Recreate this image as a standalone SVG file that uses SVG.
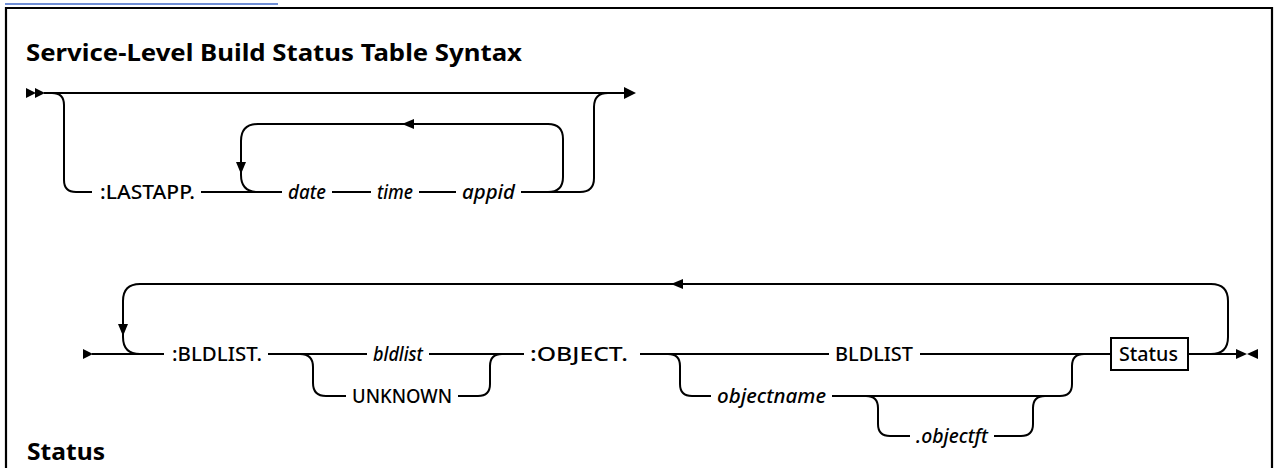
<svg xmlns="http://www.w3.org/2000/svg" width="1274" height="468" viewBox="0 0 1274 468">
<style>
.rail{fill:none;stroke:#000;stroke-width:2}
.ah{fill:#000}
.lbl{font-family:"Noto Sans","Liberation Sans",Arial,sans-serif;font-size:19px;font-weight:500;fill:#000}
.var{font-style:italic}
.hd{font-family:"Noto Sans","Liberation Sans",Arial,sans-serif;font-size:23px;font-weight:bold;fill:#000}
</style>
<rect x="0" y="0" width="1274" height="468" fill="#fff"/>
<line x1="5" y1="4" x2="278" y2="4" stroke="#3f68c7" stroke-width="1.5"/>
<path d="M6 469 L6 8 L1272 8 L1272 469" fill="none" stroke="#000" stroke-width="2.2"/>
<text class="hd" x="26" y="61" textLength="496" lengthAdjust="spacingAndGlyphs">Service-Level Build Status Table Syntax</text>
<text class="hd" x="27" y="460" textLength="78" lengthAdjust="spacingAndGlyphs">Status</text>

<g id="connectors">
  <!-- row 1 -->
  <line class="rail" x1="44" y1="93" x2="626" y2="93"/>
  <path class="rail" d="M52 93 Q64 93 64 105 L64 180 Q64 192 76 192 L92 192"/>
  <line class="rail" x1="201" y1="192" x2="282" y2="192"/>
  <path class="rail" d="M258 192 Q241 192 241 175 L241 141 Q241 124 258 124 L548 124 Q563 124 563 139 L563 177 Q563 192 548 192"/>
  <line class="rail" x1="332" y1="192" x2="371" y2="192"/>
  <line class="rail" x1="419" y1="192" x2="456" y2="192"/>
  <path class="rail" d="M521 192 L580 192 Q594 192 594 178 L594 107 Q594 93 608 93"/>
  <polygon class="ah" points="26,88 36,93 26,98"/>
  <polygon class="ah" points="35,88 45,93 35,98"/>
  <polygon class="ah" points="624,87 636,93 624,99"/>
  <polygon class="ah" points="236,162 246,162 241,174"/>
  <polygon class="ah" points="414,119 414,129 402,124"/>
  <!-- row 2 -->
  <line class="rail" x1="92" y1="354" x2="164" y2="354"/>
  <path class="rail" d="M140 354 Q123 354 123 337 L123 301 Q123 284 140 284 L1211 284 Q1228 284 1228 301 L1228 337 Q1228 354 1211 354"/>
  <line class="rail" x1="268" y1="354" x2="367" y2="354"/>
  <line class="rail" x1="429" y1="354" x2="524" y2="354"/>
  <path class="rail" d="M300 354 Q313 354 313 367 L313 383 Q313 396 326 396 L346 396"/>
  <path class="rail" d="M458 396 L478 396 Q490 396 490 384 L490 366 Q490 354 502 354"/>
  <line class="rail" x1="640" y1="354" x2="829" y2="354"/>
  <line class="rail" x1="920" y1="354" x2="1111" y2="354"/>
  <line class="rail" x1="1188" y1="354" x2="1238" y2="354"/>
  <path class="rail" d="M668 354 Q680 354 680 366 L680 384 Q680 396 692 396 L711 396"/>
  <path class="rail" d="M832 396 L1060 396 Q1072 396 1072 384 L1072 366 Q1072 354 1084 354"/>
  <path class="rail" d="M866 396 Q878 396 878 408 L878 424 Q878 436 890 436 L910 436"/>
  <path class="rail" d="M994 436 L1021 436 Q1033 436 1033 424 L1033 408 Q1033 396 1045 396"/>
  <polygon class="ah" points="83,349 93,354 83,359"/>
  <polygon class="ah" points="118,324 128,324 123,336"/>
  <polygon class="ah" points="683,279 683,289 671,284"/>
  <polygon class="ah" points="1236,349 1247,354 1236,359"/>
  <polygon class="ah" points="1258,349 1247,354 1258,359"/>
</g>

<g id="lastapp"><text class="lbl" x="100" y="199" textLength="95" lengthAdjust="spacingAndGlyphs">:LASTAPP.</text></g>
<g id="date"><text class="lbl var" x="288" y="199" textLength="38" lengthAdjust="spacingAndGlyphs">date</text></g>
<g id="time"><text class="lbl var" x="377" y="199" textLength="36" lengthAdjust="spacingAndGlyphs">time</text></g>
<g id="appid"><text class="lbl var" x="462" y="199" textLength="53" lengthAdjust="spacingAndGlyphs">appid</text></g>

<g id="bldlist-tag"><text class="lbl" x="172" y="361" textLength="90" lengthAdjust="spacingAndGlyphs">:BLDLIST.</text></g>
<g id="bldlist"><text class="lbl var" x="373" y="361" textLength="50" lengthAdjust="spacingAndGlyphs">bldlist</text></g>
<g id="unknown"><text class="lbl" x="352" y="403" textLength="100" lengthAdjust="spacingAndGlyphs">UNKNOWN</text></g>
<g id="object-tag"><text class="lbl" x="530" y="361" textLength="98" lengthAdjust="spacingAndGlyphs">:OBJECT.</text></g>
<g id="bldlist-kw"><text class="lbl" x="835" y="361" textLength="78" lengthAdjust="spacingAndGlyphs">BLDLIST</text></g>
<g id="objectname"><text class="lbl var" x="717" y="403" textLength="109" lengthAdjust="spacingAndGlyphs">objectname</text></g>
<g id="objectft"><text class="lbl var" x="916" y="443" textLength="72" lengthAdjust="spacingAndGlyphs">.objectft</text></g>
<g id="status-ref">
  <rect x="1111" y="338" width="77" height="32" fill="#fff" stroke="#000" stroke-width="2"/>
  <text class="lbl" x="1119" y="361" textLength="59" lengthAdjust="spacingAndGlyphs">Status</text>
</g>
</svg>
